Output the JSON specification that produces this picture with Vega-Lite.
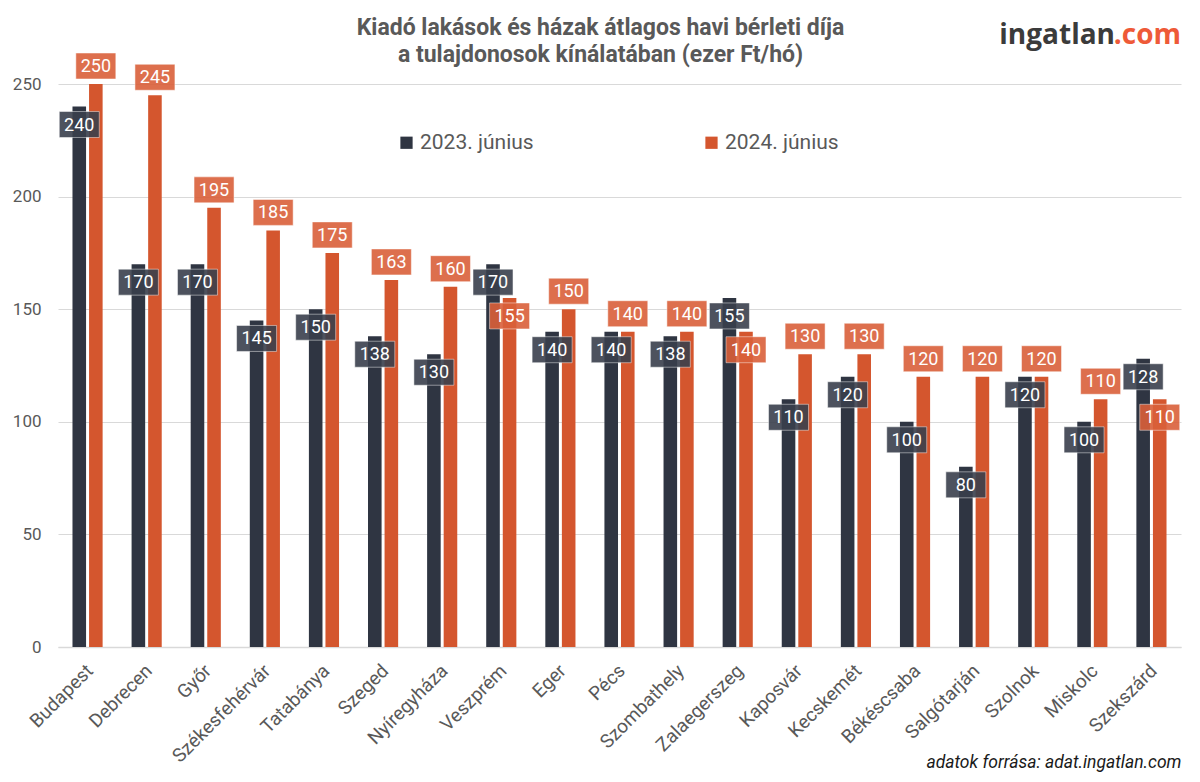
{
  "$schema": "https://vega.github.io/schema/vega-lite/v6.json",
  "width": 1123,
  "height": 563,
  "autosize": "none",
  "padding": {"left": 58, "top": 84, "right": 19, "bottom": 135},
  "background": "white",
  "title": {
    "text": ["Kiadó lakások és házak átlagos havi bérleti díja", "a tulajdonosok kínálatában (ezer Ft/hó)"],
    "font": "Roboto",
    "fontSize": 23,
    "fontWeight": "bold",
    "color": "#595959",
    "anchor": "middle",
    "frame": "group",
    "dx": -19,
    "lineHeight": 27,
    "offset": -45
  },
  "config": {
    "view": {"stroke": null},
    "font": "Roboto"
  },
  "layer": [
    {
      "data": {
        "values": [
          {"city": "Budapest", "period": "2023. június", "value": 240},
          {"city": "Budapest", "period": "2024. június", "value": 250},
          {"city": "Debrecen", "period": "2023. június", "value": 170},
          {"city": "Debrecen", "period": "2024. június", "value": 245},
          {"city": "Győr", "period": "2023. június", "value": 170},
          {"city": "Győr", "period": "2024. június", "value": 195},
          {"city": "Székesfehérvár", "period": "2023. június", "value": 145},
          {"city": "Székesfehérvár", "period": "2024. június", "value": 185},
          {"city": "Tatabánya", "period": "2023. június", "value": 150},
          {"city": "Tatabánya", "period": "2024. június", "value": 175},
          {"city": "Szeged", "period": "2023. június", "value": 138},
          {"city": "Szeged", "period": "2024. június", "value": 163},
          {"city": "Nyíregyháza", "period": "2023. június", "value": 130},
          {"city": "Nyíregyháza", "period": "2024. június", "value": 160},
          {"city": "Veszprém", "period": "2023. június", "value": 170},
          {"city": "Veszprém", "period": "2024. június", "value": 155},
          {"city": "Eger", "period": "2023. június", "value": 140},
          {"city": "Eger", "period": "2024. június", "value": 150},
          {"city": "Pécs", "period": "2023. június", "value": 140},
          {"city": "Pécs", "period": "2024. június", "value": 140},
          {"city": "Szombathely", "period": "2023. június", "value": 138},
          {"city": "Szombathely", "period": "2024. június", "value": 140},
          {"city": "Zalaegerszeg", "period": "2023. június", "value": 155},
          {"city": "Zalaegerszeg", "period": "2024. június", "value": 140},
          {"city": "Kaposvár", "period": "2023. június", "value": 110},
          {"city": "Kaposvár", "period": "2024. június", "value": 130},
          {"city": "Kecskemét", "period": "2023. június", "value": 120},
          {"city": "Kecskemét", "period": "2024. június", "value": 130},
          {"city": "Békéscsaba", "period": "2023. június", "value": 100},
          {"city": "Békéscsaba", "period": "2024. június", "value": 120},
          {"city": "Salgótarján", "period": "2023. június", "value": 80},
          {"city": "Salgótarján", "period": "2024. június", "value": 120},
          {"city": "Szolnok", "period": "2023. június", "value": 120},
          {"city": "Szolnok", "period": "2024. június", "value": 120},
          {"city": "Miskolc", "period": "2023. június", "value": 100},
          {"city": "Miskolc", "period": "2024. június", "value": 110},
          {"city": "Szekszárd", "period": "2023. június", "value": 128},
          {"city": "Szekszárd", "period": "2024. június", "value": 110}
        ]
      },
      "transform": [
        {"joinaggregate": [{"op": "max", "field": "value", "as": "cityMax"}], "groupby": ["city"]}
      ],
      "encoding": {
        "x": {
          "field": "city",
          "type": "nominal",
          "sort": null,
          "scale": {"paddingInner": 0.49, "paddingOuter": 0.245},
          "title": "adatok forrása: adat.ingatlan.com",
          "axis": {
            "labelAngle": -45,
            "labelAlign": "right",
            "labelBaseline": "top",
            "labelFontSize": 19,
            "labelColor": "#595959",
            "labelFont": "Roboto",
            "labelPadding": 14,
            "labelOffset": -4,
            "ticks": false,
            "domainColor": "#d9d9d9",
            "domainWidth": 1.5,
            "titleFont": "Roboto",
            "titleFontStyle": "italic",
            "titleFontWeight": "normal",
            "titleFontSize": 17.5,
            "titleColor": "#1a1a1a",
            "titleAnchor": "end",
            "titleAlign": "right",
            "titleBaseline": "alphabetic",
            "titleY": 120
          }
        },
        "xOffset": {
          "field": "period",
          "type": "nominal",
          "scale": {"domain": ["2023. június", "2024. június"], "paddingInner": 0.18}
        },
        "y": {
          "field": "value",
          "type": "quantitative",
          "scale": {"domain": [0, 250], "nice": false},
          "title": null,
          "axis": {
            "values": [0, 50, 100, 150, 200, 250],
            "labelFontSize": 17,
            "labelColor": "#595959",
            "labelFont": "Roboto",
            "labelPadding": 17,
            "ticks": false,
            "domain": false,
            "gridColor": "#d9d9d9",
            "gridWidth": 1.2
          }
        }
      },
      "layer": [
        {
          "mark": {"type": "bar"},
          "encoding": {
            "color": {
              "field": "period",
              "type": "nominal",
              "scale": {"domain": ["2023. június", "2024. június"], "range": ["#2f3542", "#d4562e"]},
              "legend": {
                "orient": "none",
                "legendX": 338,
                "legendY": 48,
                "direction": "horizontal",
                "title": null,
                "symbolType": "square",
                "symbolSize": 150,
                "symbolStrokeWidth": 0,
                "labelFontSize": 21,
                "labelFont": "Roboto",
                "labelColor": "#595959",
                "labelOffset": 3,
                "columnPadding": 167
              }
            }
          }
        },
        {
          "transform": [{"filter": "datum.period == '2023. június'"}],
          "mark": {"type": "tick", "thickness": 26, "size": 40, "yOffset": 18, "color": "#3a404d", "opacity": 0.9, "stroke": "#ffffff", "strokeOpacity": 0.5, "strokeWidth": 1}
        },
        {
          "transform": [{"filter": "datum.period == '2024. június' && datum.value >= datum.cityMax"}],
          "mark": {"type": "tick", "thickness": 26, "size": 40, "yOffset": -18, "color": "#da603a", "opacity": 0.9, "stroke": "#ffffff", "strokeOpacity": 0.5, "strokeWidth": 1}
        },
        {
          "transform": [{"filter": "datum.period == '2024. június' && datum.value < datum.cityMax"}],
          "mark": {"type": "tick", "thickness": 26, "size": 40, "yOffset": 18, "color": "#da603a", "opacity": 0.9, "stroke": "#ffffff", "strokeOpacity": 0.5, "strokeWidth": 1}
        },
        {
          "transform": [{"filter": "datum.period == '2023. június'"}],
          "mark": {"type": "text", "yOffset": 19, "color": "white", "fontSize": 18, "font": "Roboto", "baseline": "middle", "align": "center"},
          "encoding": {"text": {"field": "value", "type": "quantitative"}}
        },
        {
          "transform": [{"filter": "datum.period == '2024. június' && datum.value >= datum.cityMax"}],
          "mark": {"type": "text", "yOffset": -17, "color": "white", "fontSize": 18, "font": "Roboto", "baseline": "middle", "align": "center"},
          "encoding": {"text": {"field": "value", "type": "quantitative"}}
        },
        {
          "transform": [{"filter": "datum.period == '2024. június' && datum.value < datum.cityMax"}],
          "mark": {"type": "text", "yOffset": 19, "color": "white", "fontSize": 18, "font": "Roboto", "baseline": "middle", "align": "center"},
          "encoding": {"text": {"field": "value", "type": "quantitative"}}
        }
      ]
    },
    {
      "data": {"values": [{"t": ".com"}]},
      "mark": {"type": "text", "align": "right", "baseline": "alphabetic", "font": "Open Sans", "fontWeight": "bold", "fontSize": 28, "color": "#ee5a38"},
      "encoding": {"text": {"field": "t"}, "x": {"value": "width"}, "y": {"value": -40}}
    },
    {
      "data": {"values": [{"t": "ingatlan"}]},
      "mark": {"type": "text", "align": "right", "baseline": "alphabetic", "font": "Open Sans", "fontWeight": "bold", "fontSize": 28, "color": "#3b3b3b", "dx": -66},
      "encoding": {"text": {"field": "t"}, "x": {"value": "width"}, "y": {"value": -40}}
    }
  ]
}
